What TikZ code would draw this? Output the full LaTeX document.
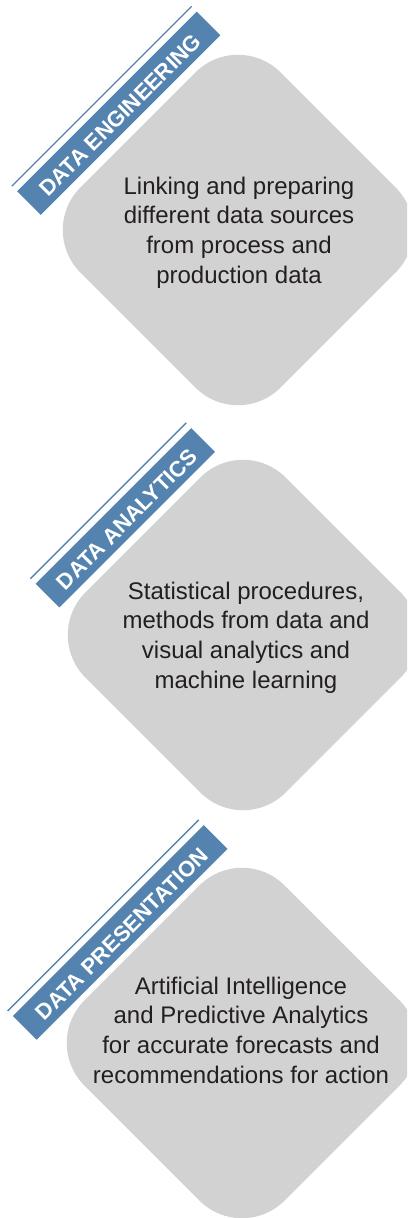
\documentclass[tikz,border=0pt]{standalone}
\usepackage{fontspec}
\setmainfont{Liberation Sans}
\definecolor{bannerblue}{HTML}{5483B0}
\definecolor{diamgray}{HTML}{D2D2D2}
\definecolor{txtdark}{HTML}{231F20}
\begin{document}
\begin{tikzpicture}[x=1pt,y=1pt,
  diam/.style={shape=rectangle, fill=diamgray, rounded corners=60pt, minimum width=283pt, minimum height=283pt, rotate=45, inner sep=0pt},
  banner/.style={shape=rectangle, fill=bannerblue, text=white, font=\fontsize{22}{26}\selectfont\bfseries, rotate=45, minimum height=33.5pt, inner sep=0pt, text height=19.8pt, text depth=0pt},
  desc/.style={text=txtdark, align=center, font=\fontsize{24}{29.6}\selectfont, anchor=base, inner sep=0pt},
  rule/.style={draw=bannerblue, line width=1.3pt}]
\useasboundingbox (0,0) rectangle (407,-1218);
\clip (0,0) rectangle (407,-1218);
% diamonds
\node[diam] (d1) at (238,-230) {};
\node[diam] (d2) at (243,-635) {};
\node[diam] (d3) at (242,-1043) {};
% banners
\node[banner, minimum width=254pt] (b1) at (118.75,-113.25) {DATA ENGINEERING};
\node[banner, minimum width=220pt] (b2) at (125.3,-517.8) {DATA ANALYTICS};
\node[banner, minimum width=270pt] (b3) at (120.2,-932.4) {DATA PRESENTATION};
% thin rules above banners
\draw[rule] ([shift={(-5,5)}]b1.north west) -- ([shift={(-5,5)}]b1.north east);
\draw[rule] ([shift={(-5,5)}]b2.north west) -- ([shift={(-5,5)}]b2.north east);
\draw[rule] ([shift={(-5,5)}]b3.north west) -- ([shift={(-5,5)}]b3.north east);
% descriptions (base anchor = baseline of last line)
\node[desc] (t1) at (239,-283) {Linking and preparing\\different data sources\\from process and\\production data};
\node[desc] (t2) at (246,-688) {Statistical procedures,\\methods from data and\\visual analytics and\\machine learning};
\node[desc] (t3) at (241,-1083) {Artificial Intelligence\\and Predictive Analytics\\for accurate forecasts and\\recommendations for action};
\end{tikzpicture}
\end{document}
